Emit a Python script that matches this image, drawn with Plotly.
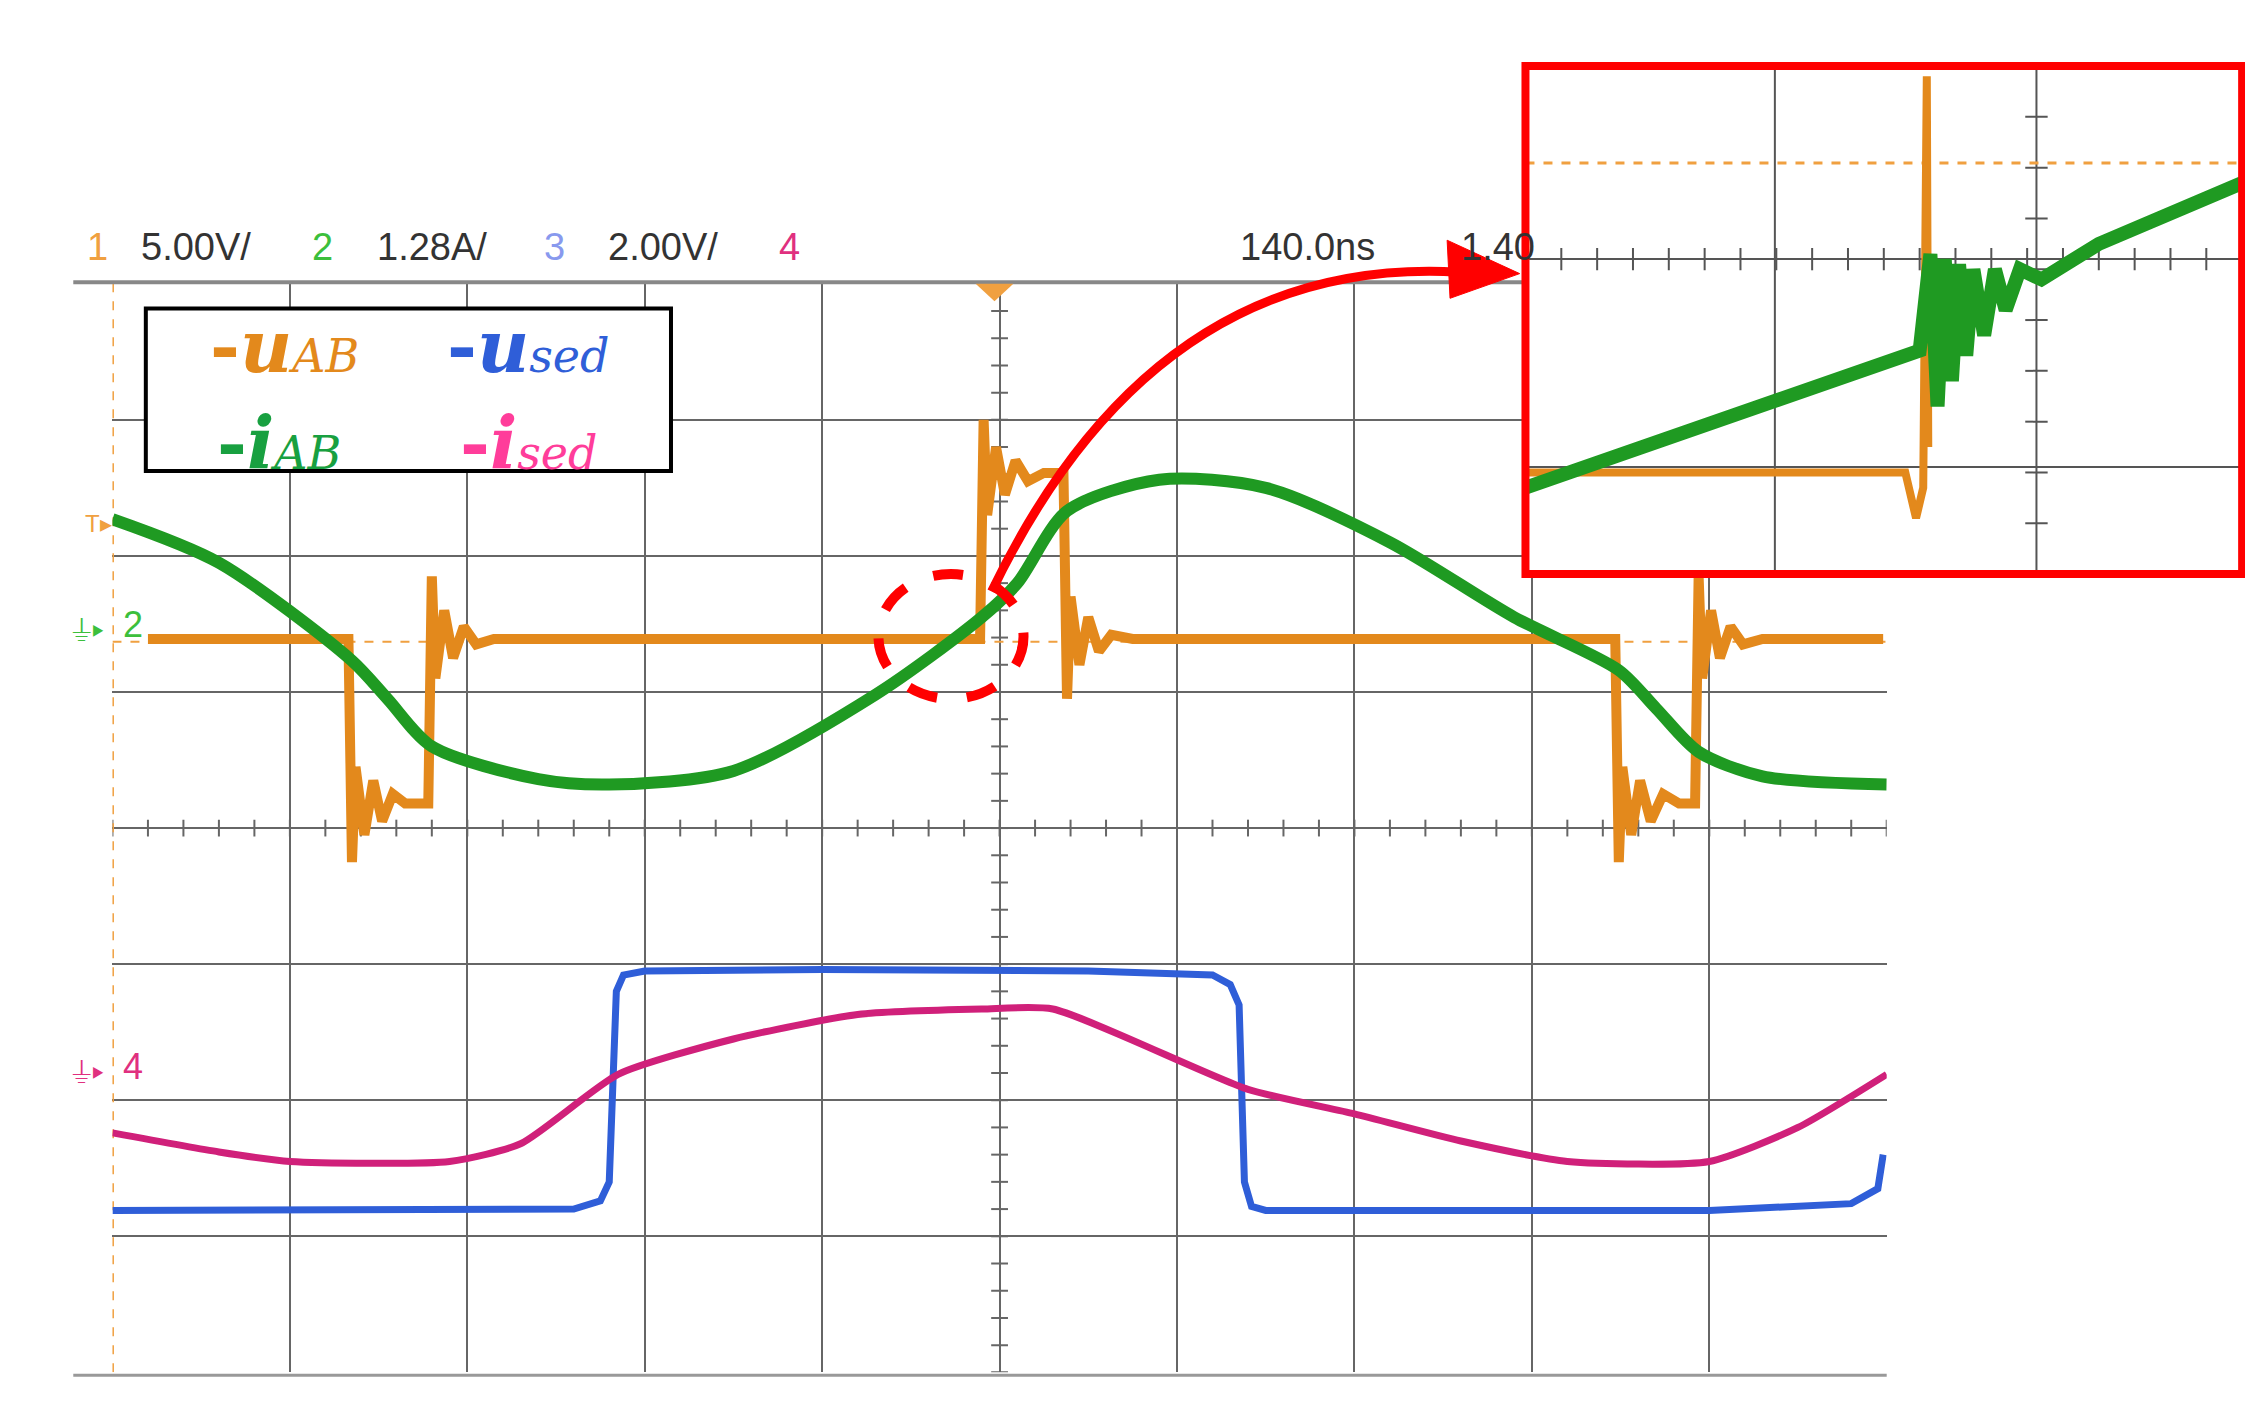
import plotly.graph_objects as go

W, H = 2253, 1405
SW, SH = 1553.0, 968.0
def PX(x): return x / SW
def PY(y): return 1 - y / SH

# ---- data (scope divisions: x 0..10, y 0..8) ----
uab_x = [0.20, 1.33, 1.35, 1.37, 1.42, 1.47, 1.52, 1.58, 1.65, 1.78, 1.80, 1.82, 1.87, 1.92, 1.98, 2.05, 2.15,
         4.89, 4.91, 4.93, 4.98, 5.03, 5.09, 5.16, 5.25, 5.36, 5.38, 5.40, 5.45, 5.50, 5.56, 5.63, 5.75,
         8.47, 8.49, 8.51, 8.56, 8.61, 8.67, 8.74, 8.83, 8.92, 8.94, 8.96, 9.01, 9.06, 9.12, 9.19, 9.30, 9.98]
uab_y = [5.39, 5.39, 3.75, 4.45, 3.95, 4.35, 4.05, 4.25, 4.18, 4.18, 5.85, 5.10, 5.60, 5.25, 5.48, 5.35, 5.39,
         5.39, 7.00, 6.30, 6.80, 6.45, 6.70, 6.55, 6.61, 6.61, 4.95, 5.70, 5.20, 5.55, 5.30, 5.42, 5.39,
         5.39, 3.75, 4.45, 3.95, 4.35, 4.05, 4.25, 4.18, 4.18, 5.85, 5.10, 5.60, 5.25, 5.48, 5.35, 5.39, 5.39]
iab_x = [0.0, 0.6, 1.35, 1.55, 1.80, 2.4, 2.8, 3.5, 4.3, 4.9, 5.1, 5.38, 5.9, 6.5, 7.2, 7.9, 8.49, 8.7, 8.94, 9.3, 10.0]
iab_y = [6.27, 5.95, 5.23, 4.95, 4.60, 4.36, 4.32, 4.42, 4.98, 5.55, 5.80, 6.33, 6.56, 6.50, 6.10, 5.55, 5.16, 4.88, 4.56, 4.38, 4.32]
used_x = [0.0, 1.5, 2.6, 2.75, 2.80, 2.84, 2.88, 3.0, 4.0, 5.5, 6.2, 6.30, 6.35, 6.38, 6.42, 6.5, 7.5, 9.0, 9.8, 9.95, 9.98]
used_y = [1.19, 1.19, 1.20, 1.26, 1.40, 2.80, 2.92, 2.95, 2.96, 2.95, 2.92, 2.85, 2.70, 1.40, 1.22, 1.19, 1.19, 1.19, 1.24, 1.35, 1.60]
ised_x = [0.0, 0.6, 1.0, 1.9, 2.3, 2.85, 3.5, 4.2, 4.9, 5.3, 6.4, 7.0, 7.6, 8.2, 9.0, 9.5, 10.0]
ised_y = [1.76, 1.62, 1.55, 1.55, 1.68, 2.19, 2.45, 2.63, 2.67, 2.67, 2.08, 1.90, 1.70, 1.55, 1.55, 1.80, 2.19]
# inset (normalized 0..1)
in_g_x = [0.0, 0.55, 0.565, 0.575, 0.585, 0.595, 0.605, 0.615, 0.625, 0.64, 0.655, 0.67, 0.69, 0.72, 0.8, 0.9, 1.0]
in_g_y = [0.17, 0.44, 0.63, 0.33, 0.62, 0.38, 0.61, 0.43, 0.60, 0.47, 0.60, 0.52, 0.60, 0.58, 0.65, 0.71, 0.77]
in_o_x = [0.0, 0.53, 0.545, 0.555, 0.56, 0.562]
in_o_y = [0.20, 0.20, 0.11, 0.17, 0.98, 0.25]

header = [("1", 53, "#f0a040"), ("5.00V/", 90, "#333"), ("2", 208, "#3cbf3c"), ("1.28A/", 253, "#333"),
          ("3", 368, "#8899ee"), ("2.00V/", 412, "#333"), ("4", 530, "#e0307f"),
          ("140.0ns", 848, "#333"), ("1.40", 1000, "#333")]

ORANGE, GREEN, BLUE, PINK = "#e3891c", "#1f9a22", "#2f5ed8", "#d0207a"

fig = go.Figure()
x0, x1, y0, y1 = 72, 1295, 190, 940
fig.update_layout(
    width=W, height=H, margin=dict(l=0, r=0, t=0, b=0), paper_bgcolor="white", plot_bgcolor="white",
    showlegend=False,
    xaxis=dict(domain=[PX(x0), PX(x1)], range=[0, 10], dtick=1, showgrid=True, gridcolor="#666",
               gridwidth=2, zeroline=False, showticklabels=False, ticks=""),
    yaxis=dict(domain=[PY(y1), PY(y0)], range=[0, 8], dtick=1, showgrid=True, gridcolor="#666",
               gridwidth=2, zeroline=False, showticklabels=False, ticks=""),
    xaxis2=dict(domain=[PX(1046), PX(1540)], range=[0, 1], anchor="y2", showgrid=False,
                zeroline=False, showticklabels=False, ticks=""),
    yaxis2=dict(domain=[PY(390), PY(40)], range=[0, 1], anchor="x2", showgrid=False,
                zeroline=False, showticklabels=False, ticks=""),
)

tx = [i * 0.2 for i in range(51)]
fig.add_trace(go.Scatter(x=tx, y=[4] * 51, mode="markers", marker=dict(symbol="line-ns", size=12, line=dict(width=2, color="#666"))))
ty = [i * 0.2 for i in range(41)]
fig.add_trace(go.Scatter(x=[5] * 41, y=ty, mode="markers", marker=dict(symbol="line-ew", size=12, line=dict(width=2, color="#666"))))
fig.add_trace(go.Scatter(x=[0, 10], y=[5.37, 5.37], mode="lines", line=dict(color="#f0a040", width=2, dash="dash")))
fig.add_trace(go.Scatter(x=[0, 0], y=[0, 8], mode="lines", line=dict(color="#f0a040", width=3, dash="dash")))

fig.add_trace(go.Scatter(x=used_x, y=used_y, mode="lines", line=dict(color=BLUE, width=7)))
fig.add_trace(go.Scatter(x=ised_x, y=ised_y, mode="lines", line=dict(color=PINK, width=7, shape="spline", smoothing=0.6)))
fig.add_trace(go.Scatter(x=uab_x, y=uab_y, mode="lines", line=dict(color=ORANGE, width=10)))
fig.add_trace(go.Scatter(x=iab_x, y=iab_y, mode="lines", line=dict(color=GREEN, width=12, shape="spline", smoothing=0.8)))

for gx in [0.348, 0.713]:
    fig.add_trace(go.Scatter(x=[gx, gx], y=[0, 1], xaxis="x2", yaxis="y2", mode="lines", line=dict(color="#555", width=2)))
for gy in [0.62, 0.211]:
    fig.add_trace(go.Scatter(x=[0, 1], y=[gy, gy], xaxis="x2", yaxis="y2", mode="lines", line=dict(color="#555", width=2)))
fig.add_trace(go.Scatter(x=[i / 20 for i in range(21)], y=[0.62] * 21, xaxis="x2", yaxis="y2", mode="markers",
                         marker=dict(symbol="line-ns", size=16, line=dict(width=2, color="#555"))))
fig.add_trace(go.Scatter(x=[0.713] * 11, y=[i / 10 for i in range(11)], xaxis="x2", yaxis="y2", mode="markers",
                         marker=dict(symbol="line-ew", size=16, line=dict(width=2, color="#555"))))
fig.add_trace(go.Scatter(x=[0, 1], y=[0.809, 0.809], xaxis="x2", yaxis="y2", mode="lines",
                         line=dict(color="#f0a040", width=3, dash="dash")))
fig.add_trace(go.Scatter(x=in_o_x, y=in_o_y, xaxis="x2", yaxis="y2", mode="lines", line=dict(color=ORANGE, width=8)))
fig.add_trace(go.Scatter(x=in_g_x, y=in_g_y, xaxis="x2", yaxis="y2", mode="lines", line=dict(color=GREEN, width=14)))

shapes = []
shapes.append(dict(type="line", xref="paper", yref="paper", x0=PX(45), x1=PX(1046), y0=PY(189), y1=PY(189), line=dict(color="#888", width=4)))
shapes.append(dict(type="line", xref="paper", yref="paper", x0=PX(45), x1=PX(1295), y0=PY(942), y1=PY(942), line=dict(color="#999", width=3)))
shapes.append(dict(type="rect", xref="paper", yref="paper", x0=PX(95), x1=PX(457), y0=PY(319), y1=PY(207),
                   line=dict(color="black", width=4), fillcolor="white"))
shapes.append(dict(type="rect", xref="paper", yref="paper", x0=PX(1046), x1=PX(1540), y0=PY(390), y1=PY(40),
                   line=dict(color="#ff0000", width=8)))
shapes.append(dict(type="circle", xref="paper", yref="paper", x0=PX(600), x1=PX(700), y0=PY(476), y1=PY(390),
                   line=dict(color="#ff0000", width=10, dash="dash")))
def pp(x, y): return f"{PX(x)} {PY(y)}"
shapes.append(dict(type="path", xref="paper", yref="paper",
                   path=f"M {pp(678,402)} Q {pp(790,170)} {pp(1000,182)}", line=dict(color="#ff0000", width=9)))
shapes.append(dict(type="path", xref="paper", yref="paper",
                   path=f"M {pp(992,160)} L {pp(1042,183)} L {pp(994,200)} Z", fillcolor="#ff0000", line=dict(color="#ff0000", width=1)))
shapes.append(dict(type="path", xref="paper", yref="paper",
                   path=f"M {pp(667,190)} L {pp(693,190)} L {pp(680,202)} Z", fillcolor="#f0a040", line=dict(width=0)))
fig.update_layout(shapes=shapes)

ann = []
for t, x, c in header:
    ann.append(dict(text=t, x=PX(x), y=PY(165), xref="paper", yref="paper", xanchor="left", yanchor="middle",
                    showarrow=False, font=dict(family="Liberation Sans Narrow, Liberation Sans", size=38, color=c)))
leg = [("u", "AB", ORANGE, 138, 233), ("u", "sed", BLUE, 301, 233), ("i", "AB", "#18a040", 143, 300), ("i", "sed", "#ff3d9a", 310, 300)]
for v, sub, c, x, y in leg:
    ann.append(dict(text=f"<b>-</b><i><b>{v}</b></i><span style='font-size:46px'><i>{sub}</i></span>", x=PX(x), y=PY(y),
                    xref="paper", yref="paper", xanchor="left", yanchor="middle", showarrow=False,
                    font=dict(family="DejaVu Serif", size=72, color=c)))
ann.append(dict(text="2", x=PX(78), y=PY(425), xref="paper", yref="paper", showarrow=False, xanchor="left",
                font=dict(family="Liberation Sans", size=36, color="#3cbf3c")))
ann.append(dict(text="⏚▸", x=PX(42), y=PY(428), xref="paper", yref="paper", showarrow=False, xanchor="left",
                font=dict(size=30, color="#3cbf3c")))
ann.append(dict(text="4", x=PX(78), y=PY(745), xref="paper", yref="paper", showarrow=False, xanchor="left",
                font=dict(family="Liberation Sans", size=36, color="#e0307f")))
ann.append(dict(text="⏚▸", x=PX(42), y=PY(748), xref="paper", yref="paper", showarrow=False, xanchor="left",
                font=dict(size=30, color="#e0307f")))
ann.append(dict(text="T▸", x=PX(52), y=PY(355), xref="paper", yref="paper", showarrow=False, xanchor="left",
                font=dict(family="Liberation Sans", size=24, color="#f0a040")))
fig.update_layout(annotations=ann)

fig.write_html("out.html")
